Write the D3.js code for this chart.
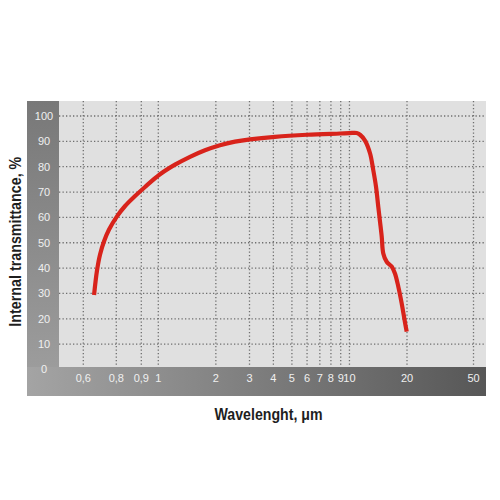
<!DOCTYPE html>
<html>
<head>
<meta charset="utf-8">
<script src="https://cdn.jsdelivr.net/npm/d3@7"></script>
<style>
  html, body { margin: 0; padding: 0; background: #fff; }
  svg { display: block; }
</style>
</head>
<body>
<svg id="chart" width="500" height="500"></svg>
<script>
// ---- data ----
const wavelength = [0.659, 0.676, 0.694, 0.719, 0.751, 0.802, 0.833, 0.874, 0.921, 1.021, 1.223, 1.465, 1.755, 2.102, 2.519, 3.018, 4.078, 5.997, 8.924, 10.0, 10.91, 11.36, 12.06, 12.81, 13.32, 13.77, 14.15, 14.44, 14.75, 15.03, 15.66, 16.63, 17.30, 18.01, 18.76, 19.52, 19.93];
const transmittance = [29.4, 39.0, 45.3, 50.6, 55.2, 60.3, 64.4, 68.4, 72.0, 77.0, 80.8, 83.9, 86.5, 88.5, 89.9, 90.8, 91.8, 92.6, 93.1, 93.25, 93.3, 92.6, 90.3, 85.3, 78.7, 72.1, 64.2, 58.5, 52.4, 45.8, 42.5, 40.6, 37.9, 32.7, 26.1, 18.6, 14.9];
const xTicks = [0.6, 0.8, 0.9, 1, 2, 3, 4, 5, 6, 7, 8, 9, 10, 20, 50];
const xTickLabels = ["0,6", "0,8", "0,9", "1", "2", "3", "4", "5", "6", "7", "8", "9", "10", "20", "50"];
const yTicks = [0, 10, 20, 30, 40, 50, 60, 70, 80, 90, 100];
const xTitle = "Wavelenght, μm";
const yTitle = "Internal transmittance, %";

// ---- layout ----
const frame = { left: 27, top: 101, right: 486, bottom: 396 };
const plot = { left: 59, top: 101, right: 486, bottom: 367 };

const svg = d3.select("#chart");

// piecewise log scale (the original axis is not uniform below 1 µm)
const x = d3.scaleLog()
  .domain([0.6, 0.8, 0.9, 1, 20, 50])
  .range([83.3, 116.3, 141.3, 158.3, 407, 473.5]);
const y = d3.scaleLinear().domain([0, 100]).range([369.5, 116]);

const defs = svg.append("defs");
const gl = defs.append("linearGradient").attr("id", "gLeft")
  .attr("x1", 0).attr("y1", 0).attr("x2", 0).attr("y2", 1);
gl.append("stop").attr("offset", "0%").attr("stop-color", "#787878");
gl.append("stop").attr("offset", "100%").attr("stop-color", "#9c9c9c");
const gb = defs.append("linearGradient").attr("id", "gBottom")
  .attr("x1", 0).attr("y1", 0).attr("x2", 1).attr("y2", 0);
gb.append("stop").attr("offset", "0%").attr("stop-color", "#a4a4a4");
gb.append("stop").attr("offset", "100%").attr("stop-color", "#575757");

// frame bands
svg.append("rect").attr("x", frame.left).attr("y", frame.top)
  .attr("width", plot.left - frame.left).attr("height", plot.bottom - frame.top)
  .attr("fill", "url(#gLeft)");
svg.append("rect").attr("x", frame.left).attr("y", plot.bottom)
  .attr("width", frame.right - frame.left).attr("height", frame.bottom - plot.bottom)
  .attr("fill", "url(#gBottom)");
// plot area
svg.append("rect").attr("x", plot.left).attr("y", plot.top)
  .attr("width", plot.right - plot.left).attr("height", plot.bottom - plot.top)
  .attr("fill", "#e0e0e0");

// grid
const grid = svg.append("g").attr("stroke", "#6e6e6e").attr("stroke-width", 1.3)
  .attr("stroke-dasharray", "1.3,2.2").attr("fill", "none");
grid.selectAll("line.v").data(xTicks).join("line").attr("class", "v")
  .attr("x1", d => x(d)).attr("x2", d => x(d))
  .attr("y1", plot.top).attr("y2", plot.bottom);
grid.selectAll("line.h").data(yTicks.filter(d => d > 0)).join("line").attr("class", "h")
  .attr("x1", plot.left).attr("x2", plot.right)
  .attr("y1", d => y(d)).attr("y2", d => y(d));

// tick labels
const lblFont = "'Liberation Sans', Arial, sans-serif";
svg.append("g").selectAll("text").data(yTicks).join("text")
  .attr("x", 44).attr("y", d => y(d)).attr("dy", "0.35em")
  .attr("text-anchor", "middle").attr("font-family", lblFont)
  .attr("font-size", 11).attr("fill", "#f0f0f0").text(d => d);
svg.append("g").selectAll("text").data(xTicks).join("text")
  .attr("x", d => x(d)).attr("y", 378.5).attr("dy", "0.35em")
  .attr("text-anchor", "middle").attr("font-family", lblFont)
  .attr("font-size", 11).attr("fill", "#f0f0f0").text((d, i) => xTickLabels[i]);

// curve
const pts = wavelength.map((w, i) => [w, transmittance[i]]);
const line = d3.line().x(d => x(d[0])).y(d => y(d[1])).curve(d3.curveCatmullRom.alpha(0.5));
svg.append("path").datum(pts).attr("d", line)
  .attr("fill", "none").attr("stroke", "#d8231b").attr("stroke-width", 4.2)
  .attr("stroke-linejoin", "round");

// titles
const titleFont = "'Liberation Sans', Arial, sans-serif";
svg.append("text").attr("x", 268.5).attr("y", 420)
  .attr("text-anchor", "middle").attr("font-family", titleFont)
  .attr("font-size", 17).attr("font-weight", "bold").attr("fill", "#1e1e1e")
  .attr("textLength", 108).attr("lengthAdjust", "spacingAndGlyphs").text(xTitle);
svg.append("text").attr("transform", "translate(20.7,241.7) rotate(-90)")
  .attr("text-anchor", "middle").attr("font-family", titleFont)
  .attr("font-size", 17).attr("font-weight", "bold").attr("fill", "#1e1e1e")
  .attr("textLength", 170).attr("lengthAdjust", "spacingAndGlyphs").text(yTitle);
</script>
</body>
</html>
